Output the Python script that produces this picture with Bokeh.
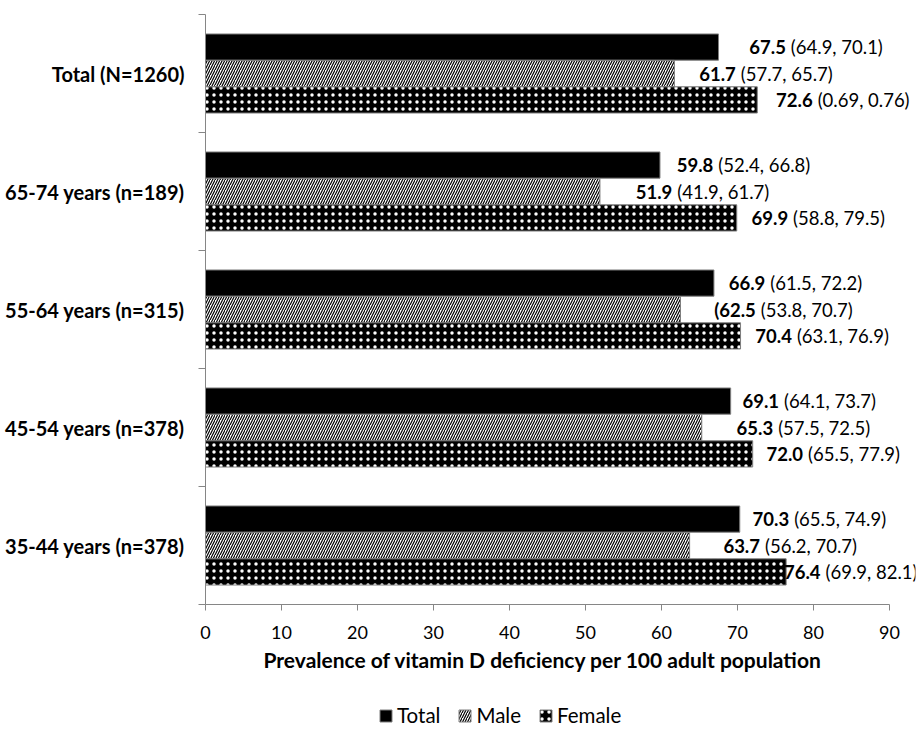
from bokeh.plotting import figure
from bokeh.layouts import column
from bokeh.models import Range1d, FixedTicker, ColumnDataSource, Legend, LegendItem, Title
from bokeh.core.properties import value
from bokeh.embed import file_html
from bokeh.resources import INLINE

# ---- data (bottom to top) ----
groups = ["35-44 years (n=378)", "45-54 years (n=378)", "55-64 years (n=315)",
          "65-74 years (n=189)", "Total (N=1260)"]
total = [70.3, 69.1, 66.9, 59.8, 67.5]
male = [63.7, 65.3, 62.5, 51.9, 61.7]
female = [76.4, 72.0, 70.4, 69.9, 72.6]
total_lab = ["70.3", "69.1", "66.9", "59.8", "67.5"]
male_lab = ["63.7", "65.3", "(62.5", "51.9", "61.7"]
female_lab = ["76.4", "72.0", "70.4", "69.9", "72.6"]
total_ci = ["(65.5, 74.9)", "(64.1, 73.7)", "(61.5, 72.2)", "(52.4, 66.8)", "(64.9, 70.1)"]
male_ci = ["(56.2, 70.7)", "(57.5, 72.5)", "(53.8, 70.7)", "(41.9, 61.7)", "(57.7, 65.7)"]
female_ci = ["(69.9, 82.1)", "(65.5, 77.9)", "(63.1, 76.9)", "(58.8, 79.5)", "(0.69, 0.76)"]
x_ticks = [0, 10, 20, 30, 40, 50, 60, 70, 80, 90]
series = ["Total", "Male", "Female"]
x_title = "Prevalence of vitamin D deficiency per 100 adult population"

# ---- layout (label pixel offsets from bar end) ----
total_dx = [12, 11, 14, 16, 30]
male_dx = [33, 34, 32, 35, 24]
female_dx = [-3, 13, 14, 14, 18]

FONT = "Lato"
FS_LAB = 18.5
centers = [2 * i + 1 for i in range(len(groups))]
bounds = [2 * i for i in range(len(groups) + 1)]
BH = 0.444
OFF = 0.448

W = 919
H_MAIN = 694
H_LEG = 36
LEFT = 205
RIGHT = 4
PX_PER_UNIT = 7.6
x_end = (W - LEFT - RIGHT) / PX_PER_UNIT

p = figure(width=W, height=H_MAIN, output_backend="svg", toolbar_location=None,
           x_range=Range1d(0, x_end), y_range=Range1d(0, 2 * len(groups)),
           min_border_left=LEFT, min_border_right=RIGHT, min_border_top=14,
           min_border_bottom=H_MAIN - 604)
p.outline_line_color = None
p.grid.visible = False
p.background_fill_color = "white"
p.border_fill_color = "white"

style_t = dict(fill_color="black", line_color="#7f7f7f", line_width=1)
style_m = dict(fill_color="white", line_color="#7f7f7f", line_width=1,
               hatch_pattern="right_diagonal_line", hatch_color="black",
               hatch_scale=5, hatch_weight=1.2)
style_f = dict(fill_color="black", line_color="#7f7f7f", line_width=1,
               hatch_pattern="dot", hatch_color="white",
               hatch_scale=7, hatch_weight=1)

src_t = ColumnDataSource(dict(y=[c + OFF for c in centers], v=total))
src_m = ColumnDataSource(dict(y=centers, v=male))
src_f = ColumnDataSource(dict(y=[c - OFF for c in centers], v=female))

p.hbar(y="y", right="v", left=0, height=BH, source=src_t, **style_t)
p.hbar(y="y", right="v", left=0, height=BH, source=src_m, **style_m)
p.hbar(y="y", right="v", left=0, height=BH, source=src_f, **style_f)

cw = {".": 0.28, "(": 0.32}


def bold_width(s):
    return sum(cw.get(ch, 0.58) for ch in s) * FS_LAB


def add_labels(ys, vals, labs, cis, dxs):
    wb = [bold_width(s) for s in labs]
    src = ColumnDataSource(dict(
        x=vals, y=ys, b=labs, c=cis,
        ob=[d + w for d, w in zip(dxs, wb)],
        oc=[d + w + 5 for d, w in zip(dxs, wb)]))
    p.text(x="x", y="y", text="b", x_offset="ob", source=src,
           text_align="right", text_baseline="middle",
           text_font=value(FONT), text_font_style="bold",
           text_font_size=f"{FS_LAB}px", text_color="black")
    p.text(x="x", y="y", text="c", x_offset="oc", source=src,
           text_align="left", text_baseline="middle",
           text_font=value(FONT), text_font_size=f"{FS_LAB}px", text_color="black")


add_labels([c + OFF for c in centers], total, total_lab, total_ci, total_dx)
add_labels(centers, male, male_lab, male_ci, male_dx)
add_labels([c - OFF for c in centers], female, female_lab, female_ci, female_dx)

# y axis
ya = p.yaxis[0]
ya.ticker = FixedTicker(ticks=centers, minor_ticks=bounds)
ya.major_label_overrides = {c: g for c, g in zip(centers, groups)}
ya.major_tick_out = 0
ya.major_tick_in = 0
ya.minor_tick_out = 7
ya.minor_tick_in = 0
ya.minor_tick_line_color = "#868686"
ya.axis_line_color = "#868686"
ya.major_label_standoff = 14
ya.major_label_text_font = FONT
ya.major_label_text_font_style = "bold"
ya.major_label_text_font_size = "20px"
ya.major_label_text_color = "black"

# x axis
xa = p.xaxis[0]
xa.ticker = FixedTicker(ticks=x_ticks)
xa.bounds = (0, 90)
xa.major_tick_out = 6
xa.major_tick_in = 0
xa.minor_tick_out = 0
xa.minor_tick_in = 0
xa.major_tick_line_color = "#868686"
xa.axis_line_color = "#868686"
xa.major_label_standoff = 15
xa.major_label_text_font = FONT
xa.major_label_text_font_size = "18px"
xa.major_label_text_color = "black"

# x-axis title, centred under the 0-90 span of the axis
xt = Title(text=x_title, align="left", offset=58, standoff=6,
           text_font=FONT, text_font_style="bold", text_font_size="21px",
           text_color="black")
p.add_layout(xt, "below")

# ---- legend strip ----
q = figure(width=W, height=H_LEG, output_backend="svg", toolbar_location=None,
           x_range=Range1d(0, 1), y_range=Range1d(0, 1),
           x_axis_location=None, y_axis_location=None,
           min_border=0)
q.outline_line_color = None
q.grid.visible = False
dummy = dict(y=[-10], v=[-10])  # kept outside the visible range; only feeds the legend glyphs
lr = [q.hbar(y="y", right="v", left=-11, height=0.1, source=ColumnDataSource(dummy), **s)
      for s in (style_t, style_m, style_f)]
legend = Legend(items=[LegendItem(label=n, renderers=[r]) for n, r in zip(series, lr)],
                orientation="horizontal", location=(173, 3))
legend.border_line_color = None
legend.background_fill_alpha = 0
legend.label_text_font = FONT
legend.label_text_font_size = "20.5px"
legend.label_text_color = "black"
legend.glyph_width = 15
legend.glyph_height = 15
legend.spacing = 17
legend.label_standoff = 4
legend.padding = 0
legend.margin = 0
q.add_layout(legend, "center")

open("out.html", "w").write(file_html(column(p, q, spacing=0), INLINE))
